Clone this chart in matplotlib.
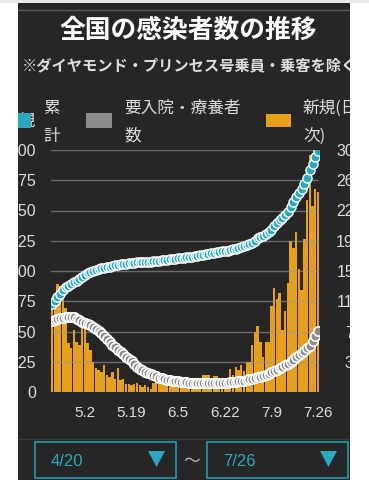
import pandas as pd
import matplotlib.pyplot as plt
from matplotlib.patches import Rectangle, Polygon

plt.rcParams['font.family'] = ['Liberation Sans', 'Noto Sans CJK JP', 'DejaVu Sans']

# Days shown: 4/20 .. 7/26
days = pd.date_range("2020-04-20", "2020-07-26", freq="D")
day_labels = [f"{d.month}.{d.day}" for d in days]
tick_labels = ["5.2", "5.19", "6.5", "6.22", "7.9", "7.26"]

# New cases per day (left axis)
new_cases = [
    373, 378, 445, 440, 436, 346, 203, 181, 257, 205, 195,
    263, 294, 203, 175, 125, 100, 89, 84, 111, 70, 64, 82, 54, 99, 51, 53,
    31, 31, 30, 35, 39, 28, 20, 27, 21, 14, 38, 42, 47, 41, 46,
    35, 51, 41, 46, 40, 45, 29, 40, 37, 41, 42, 58, 51, 72, 71, 72, 41, 68,
    66, 58, 57, 41, 57, 96, 72, 105, 92, 111, 86, 124,
    126, 195, 250, 274, 208, 145, 208, 207, 355, 430, 385, 408, 258, 333,
    450, 622, 594, 662, 510, 420, 631, 795, 981, 769, 839, 825,
]

# Cumulative cases (right axis)
cumulative = [
    11100, 11478, 11923, 12363, 12799, 13145, 13348, 13529, 13786, 13991, 14186,
    14449, 14743, 14946, 15121, 15246, 15346, 15435, 15519, 15630, 15700,
    15764, 15846, 15900, 15999, 16050, 16103, 16134, 16165, 16195, 16230,
    16269, 16297, 16317, 16344, 16365, 16379, 16417, 16459, 16506, 16547, 16593,
    16628, 16679, 16720, 16766, 16806, 16851, 16880, 16920, 16957, 16998,
    17040, 17098, 17149, 17221, 17292, 17364, 17405, 17473, 17539, 17597,
    17654, 17695, 17752, 17848, 17920, 18025, 18117, 18228, 18314, 18438,
    18564, 18759, 19009, 19283, 19491, 19636, 19844, 20051, 20406, 20836,
    21221, 21629, 21887, 22220, 22670, 23292, 23886, 24548, 25058, 25478,
    26109, 26904, 27885, 28654, 29493, 30318,
]

# Patients needing hospitalization / care (right axis)
inpatients = [
    8900, 9050, 9200, 9300, 9350, 9400, 9420, 9430, 9400, 9200, 9000,
    8850, 8700, 8550, 8420, 8200, 7950, 7700, 7400, 7050, 6650,
    6300, 5950, 5600, 5250, 5000, 4750, 4450, 4150, 3850, 3500,
    3150, 2950, 2750, 2550, 2400, 2250, 2100, 1950, 1800, 1700, 1620,
    1550, 1480, 1420, 1370, 1320, 1280, 1240, 1210, 1190, 1170,
    1150, 1140, 1130, 1120, 1120, 1120, 1120, 1130, 1130, 1140,
    1150, 1170, 1190, 1220, 1250, 1290, 1330, 1380, 1440,
    1510, 1580, 1660, 1750, 1840, 1930, 2020, 2150, 2300, 2450,
    2600, 2780, 2980, 3150, 3350, 3550, 3800, 4050, 4350, 4600,
    4850, 5100, 5500, 5800, 6450, 7000, 7650,
]

left_ticks = [0, 125, 250, 375, 500, 625, 750, 875, 1000]
right_ticks = [0, 3800, 7600, 11400, 15200, 19000, 22800, 26600, 30400]

BG = "#262626"
CYAN = "#28A9BD"
ORANGE = "#E89F1C"
GRAY = "#8C8C8C"
TXT = "#DDDDDD"

W, H = 369, 480


def fx(px):
    return px / W


def fy(py):
    return 1 - py / H


fig = plt.figure(figsize=(W / 100, H / 100), dpi=100, facecolor=BG)

x = list(range(len(days)))

ax = fig.add_axes([fx(50.6), fy(392), (319.4 - 50.6) / W, (392 - 150) / H])
ax.set_facecolor("none")
ax.bar(x, new_cases, width=0.88, color=ORANGE, linewidth=0)
ax.set_xlim(-0.5, len(days) - 0.5)
ax.set_ylim(0, 1000)
ax.set_yticks(left_ticks)
ax.set_yticklabels([str(v) for v in left_ticks])
ax.set_axisbelow(False)
ax.grid(axis="y", color="#9A9A9A", alpha=0.6, linewidth=1)
tick_pos = [day_labels.index(t) for t in tick_labels]
ax.set_xticks(tick_pos)
ax.set_xticklabels(tick_labels)
ax.tick_params(axis="y", length=0, pad=10.4, labelsize=11.5, labelcolor=TXT)
ax.tick_params(axis="x", length=0, pad=10, labelsize=11, labelcolor=TXT)
for s in ax.spines.values():
    s.set_visible(False)

ax2 = ax.twinx()
ax2.set_ylim(0, 30400)
ax2.set_yticks(right_ticks[1:])
ax2.set_yticklabels([str(v) for v in right_ticks[1:]])
ax2.tick_params(axis="y", length=0, pad=44, labelsize=11.5, labelcolor=TXT)
plt.setp(ax2.get_yticklabels(), ha="right")
for s in ax2.spines.values():
    s.set_visible(False)
ax2.plot(x, inpatients, linestyle="none", marker="o", ms=6.8,
         mfc=GRAY, mec="white", mew=1.2)
ax2.plot(x, cumulative, linestyle="none", marker="o", ms=6.6,
         mfc=CYAN, mec="white", mew=1.0)

# Title and note
fig.text(fx(188), fy(30), "全国の感染者数の推移", ha="center", va="center",
         color="white", fontsize=18.5, fontweight="bold", family="Noto Sans CJK JP")
fig.text(fx(22), fy(65), "※ダイヤモンド・プリンセス号乗員・乗客を除く", ha="left",
         va="center", color=TXT, fontsize=11, fontweight="bold",
         family="Noto Sans CJK JP", zorder=5)

# Legend
jp = dict(color=TXT, fontsize=12, family="Noto Sans CJK JP", va="center", zorder=5)
fig.text(fx(36), fy(121), "新規", ha="right", **jp)
fig.add_artist(Rectangle((fx(5), fy(128)), 26 / W, 15 / H, transform=fig.transFigure,
                         facecolor=CYAN, edgecolor="none", zorder=6))
fig.text(fx(43), fy(108), "累", ha="left", **jp)
fig.text(fx(43), fy(136), "計", ha="left", **jp)
fig.add_artist(Rectangle((fx(86), fy(128)), 26 / W, 15 / H, transform=fig.transFigure,
                         facecolor=GRAY, edgecolor="none", zorder=6))
fig.text(fx(124), fy(108), "要入院・療養者", ha="left", **jp)
fig.text(fx(124), fy(136), "数", ha="left", **jp)
fig.add_artist(Rectangle((fx(266), fy(127)), 25 / W, 13 / H, transform=fig.transFigure,
                         facecolor=ORANGE, edgecolor="none", zorder=6))
fig.text(fx(303), fy(108), "新規(日次)", ha="left", **jp)
fig.text(fx(303), fy(137), "次)", ha="left", **jp)

# Date range selector
fig.add_artist(plt.Line2D([fx(18), fx(350)], [fy(439), fy(439)], color="#3C3C3C",
                          lw=1, transform=fig.transFigure))
fig.add_artist(plt.Line2D([fx(18), fx(350)], [fy(10), fy(10)], color="#5A5A5A",
                          lw=1, transform=fig.transFigure))
for x0, label in [(35, "4/20"), (207, "7/26")]:
    fig.add_artist(Rectangle((fx(x0), fy(478)), 141 / W, 36 / H,
                             transform=fig.transFigure, facecolor="none",
                             edgecolor="#1E9BAE", lw=1.2, zorder=6))
    fig.text(fx(x0 + 16), fy(462), label, ha="left", va="center", color=CYAN,
             fontsize=12, zorder=6)
    tx = x0 + 113
    fig.add_artist(Polygon([(fx(tx), fy(451)), (fx(tx + 17), fy(451)),
                            (fx(tx + 8.5), fy(467))], closed=True,
                           transform=fig.transFigure, facecolor=CYAN,
                           edgecolor="none", zorder=6))
fig.text(fx(192), fy(461), "〜", ha="center", va="center", color="#BBBBBB",
         fontsize=12, family="Noto Sans CJK JP")

# White page margins that cut off the panel
for x0, w in [(0, 18), (350, 19)]:
    fig.add_artist(Rectangle((fx(x0), 0), w / W, 1, transform=fig.transFigure,
                             facecolor="white", edgecolor="none", zorder=10))
fig.add_artist(Rectangle((0, fy(3)), 1, 3 / H, transform=fig.transFigure,
                         facecolor="#E8E8E8", edgecolor="none", zorder=10))

fig.savefig("out.png", dpi=100, facecolor=fig.get_facecolor())
